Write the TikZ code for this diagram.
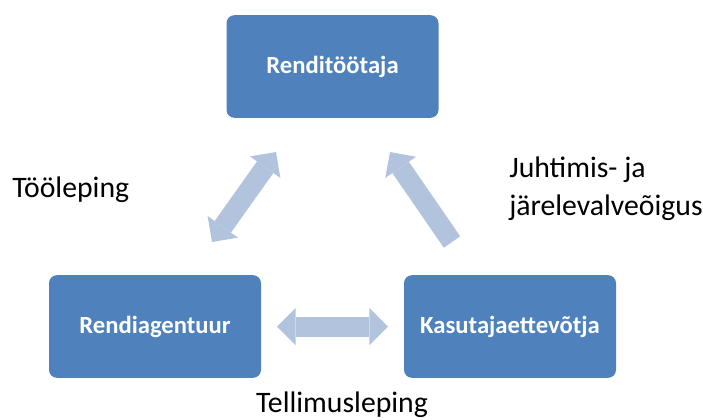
\documentclass[tikz,border=0pt]{standalone}
\usepackage{fontspec}
\setmainfont{Carlito}
\usepackage{tikz}
\usetikzlibrary{arrows.meta,positioning,calc}
\definecolor{boxblue}{RGB}{79,129,189}
\definecolor{arrowblue}{RGB}{178,195,221}

\tikzset{
    party/.style={rectangle,rounded corners=6pt,fill=boxblue,text=white,
        font=\fontsize{18.5}{22}\selectfont\bfseries,
        minimum width=159pt,minimum height=77pt,inner sep=0pt},
    relation/.style={font=\fontsize{22.3}{28.5}\selectfont,inner sep=0pt},
    fatarrow/.style={arrowblue,line width=15pt},
    fattip/.tip={Triangle[width=28pt,length=14pt,line width=0pt]}
}

\begin{document}
\begin{tikzpicture}[x=0.75pt,y=-0.75pt]
    \useasboundingbox (0,0) rectangle (703,419);

    % Parties
    \node[party] (worker) at (332.5,66.5) {Renditöötaja};
    \node[party] (agency) at (155,326.5) {Rendiagentuur};
    \node[party] (user) at (510,326.5) {Kasutajaettevõtja};

    % Arrow end points
    \coordinate (w1) at (212,242);
    \coordinate (w2) at (276,152);
    \coordinate (u1) at (452,242);
    \coordinate (u2) at (390,152);
    \coordinate (h1) at (277,326.5);
    \coordinate (h2) at (388,326.5);

    % Relations
    \draw[fatarrow,fattip-fattip] (w1) -- (w2);
    \draw[fatarrow,-fattip] (u1) -- (u2);
    \draw[fatarrow,fattip-fattip] (h1) -- (h2);

    % Labels
    \node[relation,anchor=base west] (contract) at (12,197) {Tööleping};
    \node[relation,anchor=north west,align=left] (control) at (509,157)
        {Juhtimis- ja\\järelevalveõigus};
    \node[relation,anchor=base] (order) at (342,412) {Tellimusleping};
\end{tikzpicture}
\end{document}
